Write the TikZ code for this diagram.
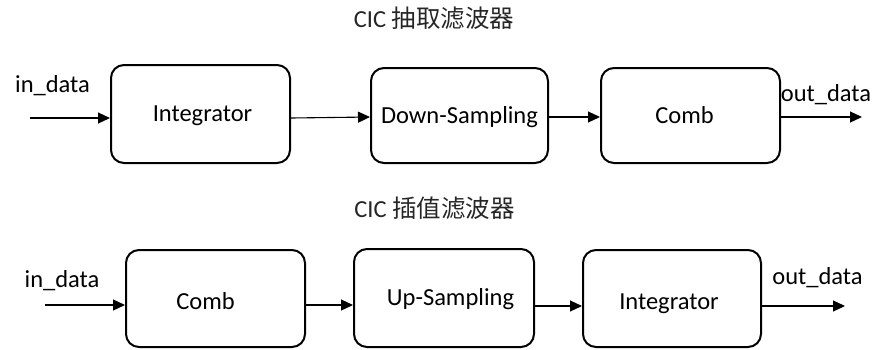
\documentclass[tikz,border=0pt]{standalone}
\usepackage{fontspec}
\setmainfont{Carlito}
\newfontfamily\cjk{Noto Sans CJK SC}
\usetikzlibrary{arrows.meta}
\begin{document}
\begin{tikzpicture}[x=1pt,y=-1pt,
  box/.style={draw=black, line width=2pt, rounded corners=13pt, inner sep=0pt,
    font=\fontsize{24.5}{28}\selectfont, text height=15.8pt, text depth=0pt},
  lowtext/.style={text height=22.8pt},
  arr/.style={draw=black, line width=1.1pt, -{Triangle[length=12pt,width=11pt]}},
  lbl/.style={inner sep=0pt, anchor=base, font=\fontsize{24.5}{28}\selectfont},
  ttl/.style={inner sep=0pt, font=\fontsize{24.5}{28}\selectfont, text=black!85}]
\useasboundingbox (0,0) rectangle (875,349);

% Titles
\node[ttl] (t1) at (434,18) {CIC {\cjk 抽取滤波器}};
\node[ttl] (t2) at (434.5,208) {CIC {\cjk 插值滤波器}};

% Row 1
\node[box, minimum width=179pt, minimum height=98pt] (a1) at (200.5,114) {\hspace*{4pt}Integrator};
\node[box, minimum width=177pt, minimum height=95pt] (a2) at (459.5,115.5) {Down-Sampling};
\node[box, minimum width=179pt, minimum height=95pt] (a3) at (690.5,115.5) {\hspace*{-12pt}Comb};
\coordinate (r1) at (0,118);
\coordinate (in1) at (30,118);
\coordinate (out1) at (862,117);
\node[lbl] (lin1) at (52.5,92) {in\_data};
\node[lbl] (lout1) at (826,101) {out\_data};
\draw[arr] (in1) -- (in1 -| a1.west);
\draw[arr] (a1.east |- r1) -- ([yshift=1pt]a2.west |- r1);
\draw[arr] ([yshift=1pt]a2.east |- r1) -- ([yshift=1pt]a3.west |- r1);
\draw[arr] (a3.east |- out1) -- (out1);

% Row 2
\node[box, lowtext, minimum width=179pt, minimum height=97pt] (b1) at (215.5,298.5) {\hspace*{-20pt}Comb};
\node[box, minimum width=180pt, minimum height=98pt] (b2) at (444,298) {\hspace*{13pt}Up-Sampling};
\node[box, lowtext, minimum width=178pt, minimum height=97pt] (b3) at (672,298.5) {\hspace*{-6pt}Integrator};
\coordinate (r2) at (0,305);
\coordinate (in2) at (45,305);
\coordinate (out2) at (845,306);
\node[lbl] (lin2) at (62,287) {in\_data};
\node[lbl] (lout2) at (817.5,284) {out\_data};
\draw[arr] (in2) -- (in2 -| b1.west);
\draw[arr] (b1.east |- r2) -- (b2.west |- r2);
\draw[arr] (b2.east |- out2) -- (b3.west |- out2);
\draw[arr] (b3.east |- out2) -- (out2);
\end{tikzpicture}
\end{document}
